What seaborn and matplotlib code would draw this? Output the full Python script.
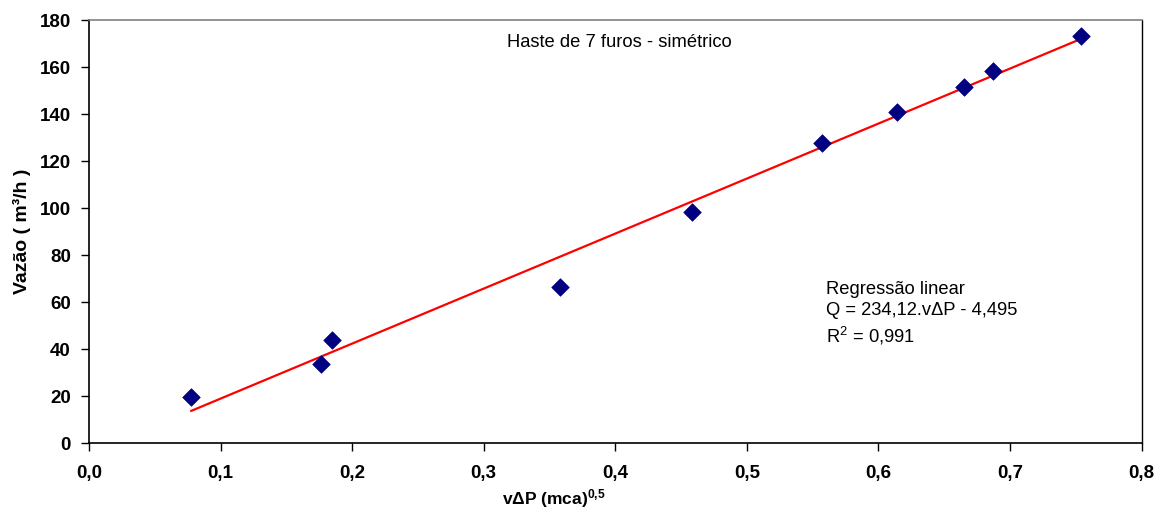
import matplotlib
matplotlib.use("Agg")
import matplotlib.pyplot as plt
import seaborn as sns
import numpy as np
import pandas as pd
from matplotlib.ticker import FuncFormatter, MultipleLocator

# data
dp_sqrt = [0.0776, 0.176, 0.185, 0.358, 0.458, 0.557, 0.614, 0.665, 0.687, 0.754]
vazao = [19.4, 33.5, 43.8, 66.4, 98.3, 127.7, 140.9, 151.5, 158.3, 173.2]
slope = 234.12
intercept = -4.495

sns.set_theme(style="white")
plt.rcParams['font.family'] = ['Liberation Sans', 'DejaVu Sans']
plt.rcParams['mathtext.fontset'] = 'custom'
plt.rcParams['mathtext.rm'] = 'Liberation Sans'
plt.rcParams['mathtext.bf'] = 'Liberation Sans:bold'
plt.rcParams['mathtext.default'] = 'regular'
plt.rcParams['text.color'] = 'black'
plt.rcParams['axes.labelcolor'] = 'black'
plt.rcParams['xtick.color'] = 'black'
plt.rcParams['ytick.color'] = 'black'

fig = plt.figure(figsize=(11.66, 5.17), dpi=100)
ax = fig.add_axes([0.0763, 0.143, 0.9027, 0.818])

df = pd.DataFrame({"x": dp_sqrt, "y": vazao})
xl = np.array([min(dp_sqrt), max(dp_sqrt)])
fit = pd.DataFrame({"x": xl, "y": slope * xl + intercept})
sns.lineplot(data=fit, x="x", y="y", ax=ax, color="#ff0000", linewidth=1.6, zorder=2)
sns.scatterplot(data=df, x="x", y="y", ax=ax, marker="D", color="#000080",
                s=80, edgecolor="#000080", linewidth=0.5, zorder=3)

ax.set_xlim(0, 0.8)
ax.set_ylim(0, 180)
ax.xaxis.set_major_locator(MultipleLocator(0.1))
ax.yaxis.set_major_locator(MultipleLocator(20))
ax.xaxis.set_major_formatter(FuncFormatter(lambda v, p: f"{v:.1f}".replace(".", ",")))
ax.yaxis.set_major_formatter(FuncFormatter(lambda v, p: f"{v:.0f}"))

for side in ["left", "bottom"]:
    ax.spines[side].set_color("black")
    ax.spines[side].set_linewidth(1.2)
ax.spines["top"].set_color("#808080")
ax.spines["top"].set_linewidth(1.2)
ax.spines["right"].set_color("black")
ax.spines["right"].set_linewidth(1.0)

ax.tick_params(axis="both", which="major", direction="out", length=6, width=1,
               color="black", labelcolor="black", labelsize=13.5,
               left=True, bottom=True, pad=7)
ax.tick_params(axis="x", pad=10)
for lab in ax.get_xticklabels() + ax.get_yticklabels():
    lab.set_fontweight("bold")

ax.set_xlabel("v\u0394P (mca)$^{\\mathbf{0{,}5}}$", fontsize=12.5, fontweight="bold",
              color="black")
ax.xaxis.set_label_coords(0.442, -0.103)
ax.set_ylabel("Vazão ( m³/h )", fontsize=14, fontweight="bold", labelpad=6,
              color="black")

ax.text(0.504, 0.948, "Haste de 7 furos - simétrico", transform=ax.transAxes,
        fontsize=13.2, ha="center", va="center", color="black")
ax.text(0.700, 0.305, "Regressão linear\nQ = 234,12.v\u0394P - 4,495\nR$^2$ = 0,991",
        transform=ax.transAxes, fontsize=13.2, ha="left", va="center",
        linespacing=1.3, color="black")

fig.savefig("out.png", dpi=100)
